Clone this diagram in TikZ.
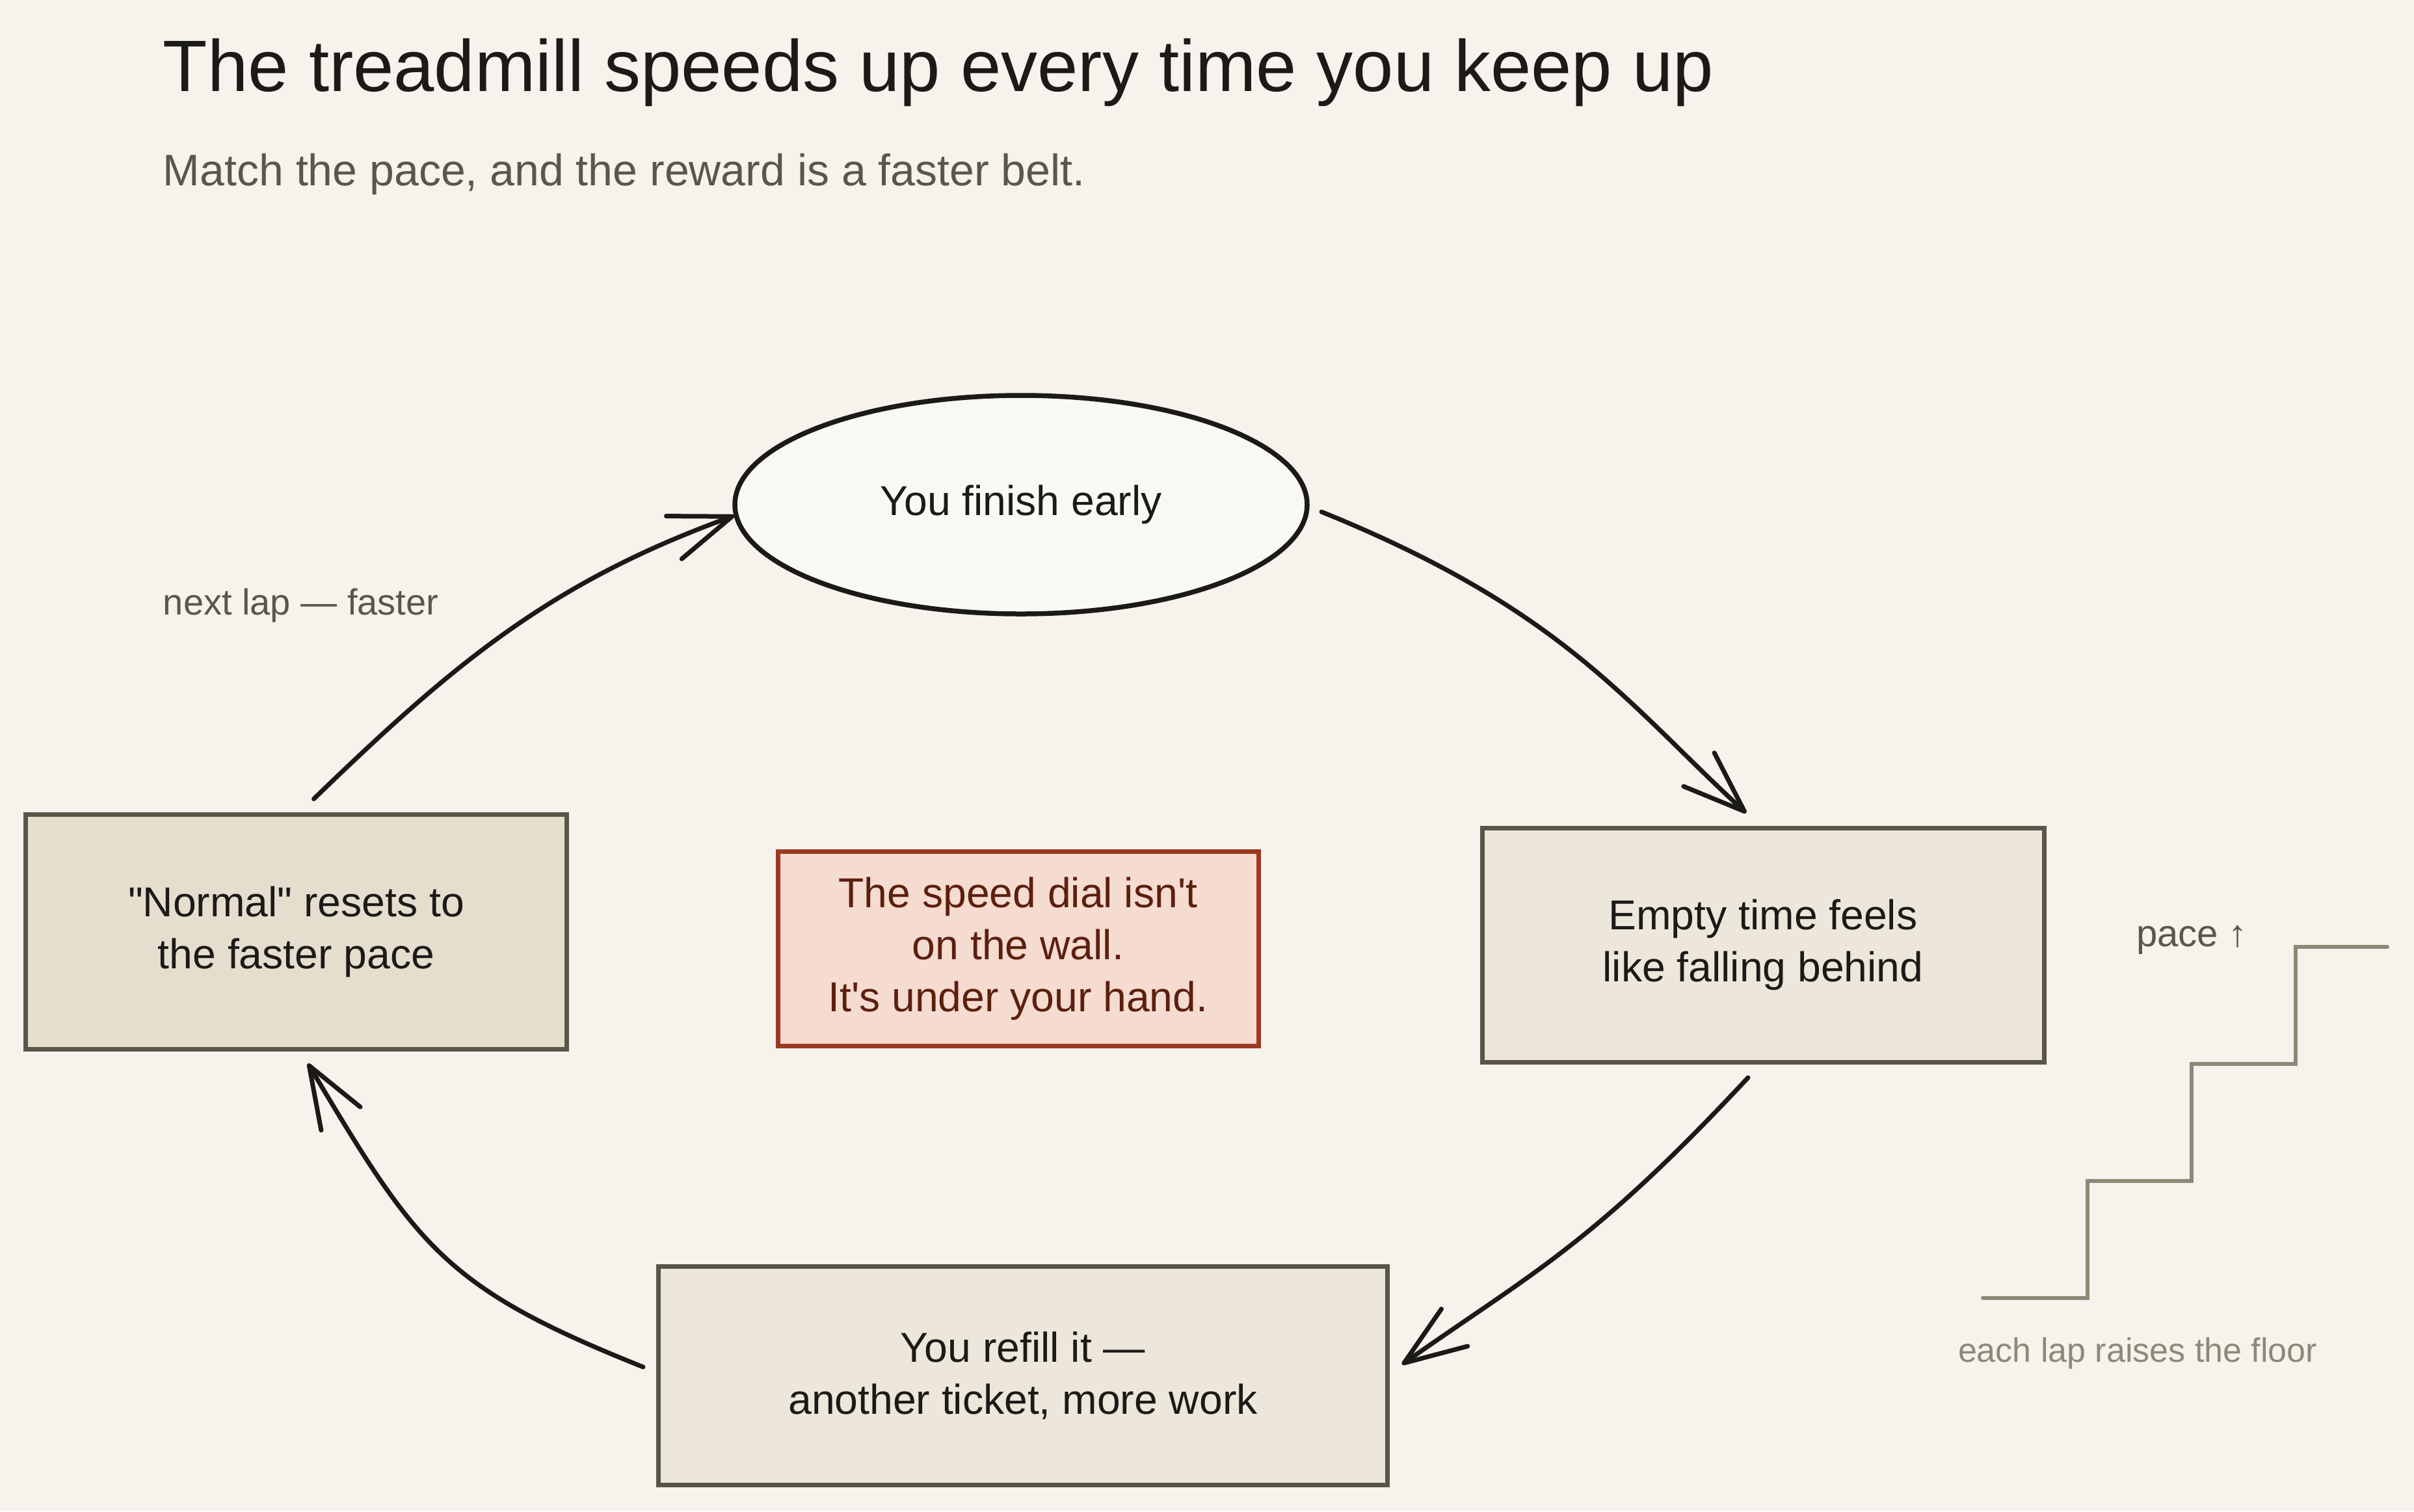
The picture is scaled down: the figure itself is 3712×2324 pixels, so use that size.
\documentclass[tikz,border=0pt]{standalone}
\usepackage{fontspec}
\setmainfont{Liberation Sans}[Ligatures=TeXOff]
\usetikzlibrary{arrows.meta,shapes.geometric,calc}
\definecolor{bg}{HTML}{F6F2EC}
\definecolor{ink}{HTML}{1C1A16}
\definecolor{muted}{HTML}{5B564D}
\definecolor{boxline}{HTML}{5A5549}
\definecolor{boxA}{HTML}{E5DECF}
\definecolor{boxB}{HTML}{ECE6DB}
\definecolor{ellfill}{HTML}{FAF8F4}
\definecolor{rust}{HTML}{9B3A20}
\definecolor{pinkfill}{HTML}{F5DBD0}
\definecolor{wine}{HTML}{5C1F0E}
\definecolor{stairc}{HTML}{8E8877}
\begin{document}
\begin{tikzpicture}[x=0.2pt,y=-0.2pt,
  box/.style={rectangle, draw=boxline, line width=1.4pt, inner sep=0pt, outer sep=0pt,
    text=ink, align=center, font=\fontsize{12.85}{16}\selectfont},
  flow/.style={draw=ink, line width=1.4pt, line cap=round,
    -{Straight Barb[length=19pt,width=14pt,round]}},
  lbl/.style={anchor=base west, inner sep=0pt, outer sep=0pt},
  stairline/.style={draw=stairc, line width=1.2pt, line cap=round}]
\fill[bg] (0,0) rectangle (3712,2324);
\useasboundingbox (0,0) rectangle (3712,2324);

\node[lbl, text=ink, font=\fontsize{22.4}{26}\selectfont] (title) at (251,140)
  {The treadmill speeds up every time you keep up};
\node[lbl, text=muted, font=\fontsize{13.6}{16}\selectfont] (sub) at (251,285)
  {Match the pace, and the reward is a faster belt.};

\node[ellipse, draw=ink, line width=1.5pt, fill=ellfill, minimum width=176pt,
  minimum height=67.2pt, inner sep=0pt, outer sep=0pt, text=ink,
  font=\fontsize{12.85}{16}\selectfont] (fin) at (1570,776) {You finish early};

\node[box, fill=boxA, minimum width=166.2pt, minimum height=72.2pt] (nor) at (455.5,1433)
  {"Normal" resets to\\the faster pace};
\node[box, fill=boxB, minimum width=172.8pt, minimum height=72pt] (emp) at (2711,1453)
  {Empty time feels\\like falling behind};
\node[box, fill=boxB, minimum width=224pt, minimum height=67.2pt] (ref) at (1573,2115)
  {You refill it —\\another ticket, more work};
\node[box, draw=rust, fill=pinkfill, text=wine, minimum width=147.8pt, minimum height=59.8pt]
  (dial) at (1565.5,1458.5) {The speed dial isn't\\on the wall.\\It's under your hand.};

\draw[flow] ($(fin.east)+(22,11)$) .. controls (2403,937) and (2501,1081) .. ($(emp.north)+(-26,-23)$);
\draw[flow] ($(emp.south)+(-23,24)$) .. controls (2449,1913) and (2361,1954) .. ($(ref.east)+(23,-17)$);
\draw[flow] ($(ref.west)+(-24,-13)$) .. controls (683,1980) and (642,1918) .. ($(nor.south)+(18,22)$);
\draw[flow] ($(nor.north)+(27,-24)$) .. controls (698,1020) and (847,895) .. ($(fin.west)+(-1,17)$);

\node[lbl, text=muted, font=\fontsize{11.2}{13}\selectfont] (lap) at (251,945) {next lap — faster};
\node[lbl, text=muted, font=\fontsize{11.6}{14}\selectfont] (pace) at (3285,1455) {pace ↑};
\node[lbl, text=stairc, font=\fontsize{10.4}{12}\selectfont] (floor) at (3011,2094) {each lap raises the floor};

\draw[stairline] (3049,1996) -| (3210,1816) -| (3370,1636) -| (3530,1456) -- (3671,1456);
\end{tikzpicture}
\end{document}
